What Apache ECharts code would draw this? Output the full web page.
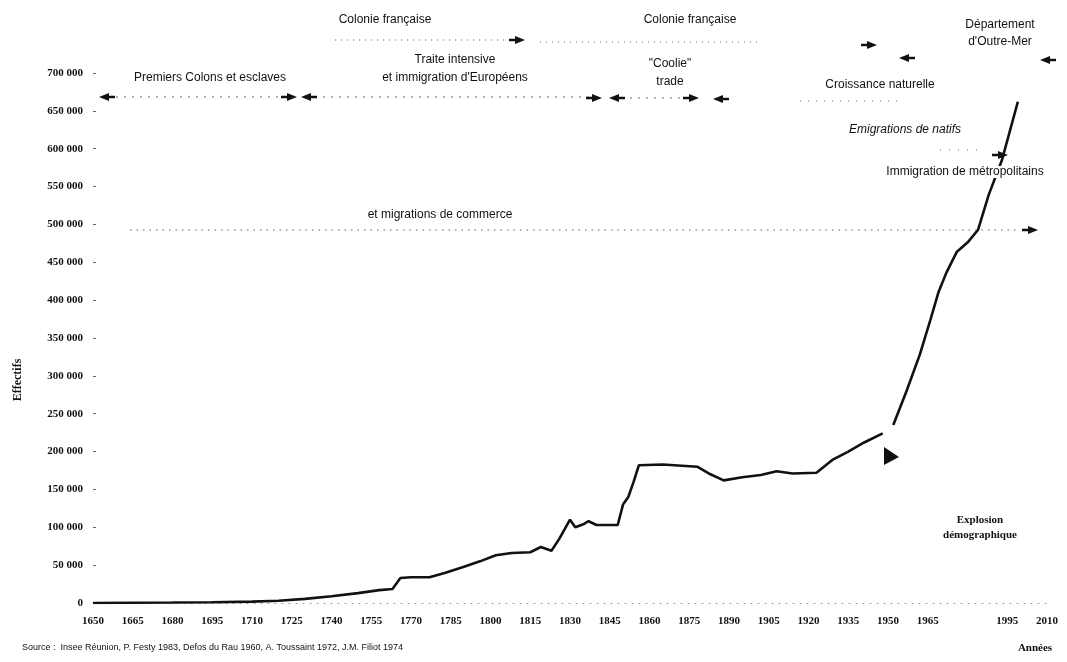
<!DOCTYPE html>
<html>
<head>
<meta charset="utf-8">
<script src="https://cdn.jsdelivr.net/npm/echarts@6/dist/echarts.min.js"></script>
<style>
  html, body { margin: 0; padding: 0; background: #fff; }
  #chart { width: 1067px; height: 662px; }
</style>
</head>
<body>
<div id="chart"></div>
<script>
// Population de La Réunion, 1650-2010 (effectifs)
const years = [1650, 1665, 1680, 1695, 1710, 1720, 1730, 1740, 1750, 1758, 1763, 1766, 1770, 1777,
  1783, 1790, 1796, 1802, 1808, 1815, 1819, 1823, 1826, 1830, 1832, 1835, 1837, 1840, 1848, 1850,
  1852, 1854, 1856, 1865, 1878, 1883, 1888, 1895, 1902, 1908, 1914, 1923, 1929, 1935, 1941, 1948,
  1950, 1952, 1957, 1962, 1966, 1969, 1972, 1976, 1980, 1984, 1988, 1993, 1999];
const effectifs = [0, 300, 600, 1000, 1800, 3000, 5500, 9000, 13000, 17000, 18500, 33000, 34000, 34000,
  40000, 48000, 55000, 63000, 66000, 67000, 74000, 69000, 85000, 110000, 100000, 104000, 108000, 103000, 103000, 130000,
  140000, 160000, 182000, 183000, 180000, 170000, 162000, 166000, 169000, 174000, 171000, 172000, 189000, 200000, 212000, 224000,
  null, 235000, 280000, 328000, 374000, 410000, 436000, 464000, 476000, 493000, 539000, 585000, 662000];

// Graduations de l'axe des années (1980 non étiqueté)
const yearTicks = [1650, 1665, 1680, 1695, 1710, 1725, 1740, 1755, 1770, 1785, 1800, 1815, 1830, 1845,
  1860, 1875, 1890, 1905, 1920, 1935, 1950, 1965, 1980, 1995, 2010];
const hiddenYearLabels = [1980];

const sourceText = 'Source :  Insee Réunion, P. Festy 1983, Defos du Rau 1960, A. Toussaint 1972, J.M. Filiot 1974';

const INK = '#111';
const SANS = '"Liberation Sans", Arial, sans-serif';
const SERIF = '"Liberation Serif", "DejaVu Serif", serif';

function fmt(v) {
  return String(v).replace(/\B(?=(\d{3})+(?!\d))/g, ' ');
}

function label(x, y, text, opt) {
  opt = opt || {};
  return {
    type: 'text', x: x, y: y, z: 100,
    style: {
      text: text, fill: INK,
      font: opt.font || ('12px ' + SANS),
      align: opt.align || 'center', verticalAlign: 'middle',
      textAlign: opt.align || 'center', textVerticalAlign: 'middle',
      backgroundColor: opt.bg || null,
      padding: opt.bg ? [0, 2] : 0
    },
    rotation: opt.rotation || 0
  };
}

function dotted(x1, y1, x2, y2, dash) {
  return {
    type: 'line', z: 90,
    shape: { x1: x1, y1: y1, x2: x2, y2: y2 },
    style: { stroke: '#666', lineWidth: 1.2, lineDash: dash || [1, 5] }
  };
}

// Flèche pleine (pointe + petite queue) orientée à droite (dir=1) ou à gauche (dir=-1)
function arrow(x, y, dir) {
  const d = dir;
  return [
    {
      type: 'polygon', z: 95,
      shape: { points: [[x + 5 * d, y], [x - 5 * d, y - 4], [x - 5 * d, y + 4]] },
      style: { fill: INK }
    },
    {
      type: 'line', z: 95,
      shape: { x1: x - 5 * d, y1: y, x2: x - 11 * d, y2: y },
      style: { stroke: INK, lineWidth: 2.5 }
    }
  ];
}

const chart = echarts.init(document.getElementById('chart'), null, { renderer: 'canvas' });

const graphics = [].concat(
  // Statut politique
  [label(385, 20, 'Colonie française'), dotted(335, 40, 512, 40)],
  arrow(520, 40, 1),
  [label(690, 20, 'Colonie française'), dotted(540, 42, 760, 42)],
  arrow(872, 45, 1),
  [label(1000, 25, 'Département'), label(1000, 42, "d'Outre-Mer")],
  arrow(904, 58, -1),
  arrow(1045, 60, -1),

  // Phases de peuplement
  [label(210, 78, 'Premiers Colons et esclaves'), dotted(108, 97, 285, 97, [2, 6])],
  arrow(104, 97, -1),
  arrow(292, 97, 1),
  arrow(306, 97, -1),
  [label(455, 60, 'Traite intensive'), label(455, 78, "et immigration d'Européens"), dotted(315, 97, 590, 97, [2, 6])],
  arrow(597, 98, 1),
  arrow(614, 98, -1),
  [label(670, 64, '"Coolie"'), label(670, 82, 'trade'), dotted(622, 98, 688, 98, [2, 6])],
  arrow(694, 98, 1),
  arrow(718, 99, -1),
  [label(880, 85, 'Croissance naturelle'), dotted(800, 101, 900, 101, [1, 7])],

  [label(905, 130, 'Emigrations de natifs', { font: 'italic 12px ' + SANS }), dotted(940, 150, 985, 150, [1, 8])],
  arrow(1003, 155, 1),
  [label(965, 172, 'Immigration de métropolitains', { bg: '#fff' })],

  [label(440, 215, 'et migrations de commerce'), dotted(130, 230, 1020, 230, [1.5, 5])],
  arrow(1033, 230, 1),

  // Explosion démographique
  [{
    type: 'polygon', z: 95,
    shape: { points: [[884, 447], [884, 465], [899, 457]] },
    style: { fill: INK }
  }],
  [label(980, 520, 'Explosion', { font: 'bold 11px ' + SERIF }),
   label(980, 535, 'démographique', { font: 'bold 11px ' + SERIF })],

  // Titres d'axes et source
  [label(18, 380, 'Effectifs', { font: 'bold 12px ' + SERIF, rotation: Math.PI / 2 })],
  [label(1035, 648, 'Années', { font: 'bold 11px ' + SERIF })],
  [label(22, 648, sourceText, { font: '9px ' + SANS, align: 'left' })]
);

chart.setOption({
  animation: false,
  backgroundColor: '#fff',
  grid: { left: 93, right: 20, top: 73, bottom: 59, containLabel: false },
  xAxis: {
    type: 'value',
    min: 1650, max: 2010, interval: 15,
    splitLine: { show: false },
    axisLine: { show: true, lineStyle: { color: '#999', width: 1, type: [1, 6] } },
    axisTick: { show: false },
    axisLabel: {
      margin: 13,
      color: INK,
      fontFamily: SERIF,
      fontWeight: 'bold',
      fontSize: 11,
      formatter: function (v) {
        return (yearTicks.indexOf(v) >= 0 && hiddenYearLabels.indexOf(v) < 0) ? String(v) : '';
      }
    }
  },
  yAxis: {
    type: 'value',
    min: 0, max: 700000, interval: 50000,
    splitLine: { show: false },
    axisLine: { show: false },
    axisTick: { show: true, length: 3, inside: true, lineStyle: { color: '#666' } },
    axisLabel: {
      margin: 10,
      color: INK,
      fontFamily: SERIF,
      fontWeight: 'bold',
      fontSize: 11,
      formatter: function (v) { return fmt(v); }
    }
  },
  series: [{
    type: 'line',
    data: years.map(function (y, i) { return [y, effectifs[i]]; }),
    showSymbol: false,
    connectNulls: false,
    smooth: false,
    z: 10,
    lineStyle: { color: INK, width: 2.6 }
  }],
  graphic: { elements: graphics }
});
</script>
</body>
</html>
